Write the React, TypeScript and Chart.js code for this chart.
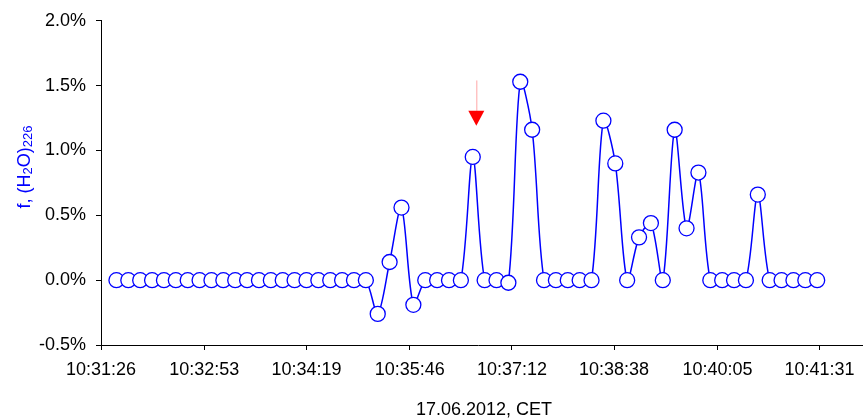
import React, { useEffect, useRef } from "react";
import { Chart, registerables } from "chart.js";

Chart.register(...registerables);

// ---- data ----
const sampleTimes: string[] = [
  "10:31:39", "10:31:49", "10:31:59", "10:32:09", "10:32:19", "10:32:29", "10:32:39", "10:32:49", "10:32:59", "10:33:09",
  "10:33:19", "10:33:29", "10:33:39", "10:33:49", "10:33:59", "10:34:09", "10:34:19", "10:34:29", "10:34:39", "10:34:49",
  "10:34:59", "10:35:09", "10:35:19", "10:35:29", "10:35:39", "10:35:49", "10:35:59", "10:36:09", "10:36:19", "10:36:29",
  "10:36:39", "10:36:49", "10:36:59", "10:37:09", "10:37:19", "10:37:29", "10:37:39", "10:37:49", "10:37:59", "10:38:09",
  "10:38:19", "10:38:29", "10:38:39", "10:38:49", "10:38:59", "10:39:09", "10:39:19", "10:39:29", "10:39:39", "10:39:49",
  "10:39:59", "10:40:09", "10:40:19", "10:40:29", "10:40:39", "10:40:49", "10:40:59", "10:41:09", "10:41:19", "10:41:29",
];

const fractionPct: number[] = [
  0, 0, 0, 0, 0, 0, 0, 0, 0, 0,
  0, 0, 0, 0, 0, 0, 0, 0, 0, 0,
  0, 0, -0.26, 0.14, 0.56, -0.19, 0, 0, 0, 0,
  0.95, 0, 0, -0.02, 1.53, 1.16, 0, 0, 0, 0,
  0, 1.23, 0.9, 0, 0.33, 0.44, 0, 1.16, 0.4, 0.83,
  0, 0, 0, 0, 0.66, 0, 0, 0, 0, 0,
];

const xTickLabels: string[] = ["10:31:26", "10:32:53", "10:34:19", "10:35:46", "10:37:12", "10:38:38", "10:40:05", "10:41:31"];
const xAxisEnd = "10:42:01";
const yMin = -0.5;
const yMax = 2.0;
const yStep = 0.5;

const arrowTime = "10:36:42";
const arrowTopPct = 1.54;
const arrowTipPct = 1.19;

const yTitleParts: [string, boolean][] = [["f, (H", false], ["2", true], ["O)", false], ["226", true]];
const xTitle = "17.06.2012, CET";

// ---- helpers ----
const toSec = (s: string) => {
  const [h, m, sec] = s.split(":").map(Number);
  return h * 3600 + m * 60 + sec;
};
const fmt = (v: number) => {
  const t = Math.round(v);
  const h = Math.floor(t / 3600);
  const m = Math.floor((t % 3600) / 60);
  const s = t % 60;
  const p = (n: number) => String(n).padStart(2, "0");
  return `${h}:${p(m)}:${p(s)}`;
};

const FONT = "'Liberation Sans', Arial, sans-serif";
const BLUE = "#0000FF";

const overlay = {
  id: "overlay",
  afterDatasetsDraw(chart: any) {
    const { ctx, scales } = chart;
    const x = scales.x;
    const y = scales.y;
    ctx.save();
    const ax = x.getPixelForValue(toSec(arrowTime));
    const yTop = y.getPixelForValue(arrowTopPct);
    const yTip = y.getPixelForValue(arrowTipPct);
    const triH = 15;
    const triW = 16;
    ctx.strokeStyle = "rgba(255,0,0,0.35)";
    ctx.lineWidth = 1;
    ctx.beginPath();
    ctx.moveTo(ax + 0.5, yTop);
    ctx.lineTo(ax + 0.5, yTip - triH);
    ctx.stroke();
    ctx.fillStyle = "#FF0000";
    ctx.beginPath();
    ctx.moveTo(ax - triW / 2, yTip - triH);
    ctx.lineTo(ax + triW / 2, yTip - triH);
    ctx.lineTo(ax, yTip);
    ctx.closePath();
    ctx.fill();
    ctx.restore();
  },
  afterDraw(chart: any) {
    const { ctx, chartArea } = chart;

    // extend bottom axis line to the right edge
    ctx.save();
    ctx.strokeStyle = "#000";
    ctx.lineWidth = 1;
    ctx.beginPath();
    ctx.moveTo(chartArea.right, Math.round(chartArea.bottom) + 0.5);
    ctx.lineTo(863, Math.round(chartArea.bottom) + 0.5);
    ctx.stroke();
    ctx.restore();

    // y title with subscripts
    ctx.save();
    const mainFont = `18px ${FONT}`;
    const subFont = `13px ${FONT}`;
    let total = 0;
    for (const [t, sub] of yTitleParts) {
      ctx.font = sub ? subFont : mainFont;
      total += ctx.measureText(t).width;
    }
    ctx.translate(30, 167);
    ctx.rotate(-Math.PI / 2);
    ctx.fillStyle = BLUE;
    ctx.textBaseline = "alphabetic";
    ctx.textAlign = "left";
    let cx = -total / 2;
    for (const [t, sub] of yTitleParts) {
      ctx.font = sub ? subFont : mainFont;
      ctx.fillText(t, cx, sub ? 2 : 0);
      cx += ctx.measureText(t).width;
    }
    ctx.restore();

    // x title
    ctx.save();
    ctx.font = `18px ${FONT}`;
    ctx.fillStyle = "#000";
    ctx.textAlign = "center";
    ctx.textBaseline = "alphabetic";
    ctx.fillText(xTitle, 484, 415);
    ctx.restore();
  },
};

export default function App() {
  const ref = useRef<HTMLCanvasElement | null>(null);

  useEffect(() => {
    document.body.style.margin = "0";
    const canvas = ref.current;
    if (!canvas) return;
    const xMin = toSec(xTickLabels[0]);
    const xMax = toSec(xAxisEnd);
    const chart = new Chart(canvas, {
      type: "line",
      data: {
        datasets: [
          {
            data: sampleTimes.map((t, i) => ({ x: toSec(t), y: fractionPct[i] })),
            borderColor: BLUE,
            borderWidth: 1.5,
            pointRadius: 7.5,
            pointBorderWidth: 1.3,
            pointBackgroundColor: "#FFFFFF",
            pointBorderColor: BLUE,
            tension: 0.3,
            clip: false as any,
          },
        ],
      },
      options: {
        animation: false,
        responsive: true,
        maintainAspectRatio: false,
        layout: { padding: { left: 0, right: 0, top: 20, bottom: 0 } },
        plugins: { legend: { display: false }, tooltip: { enabled: false } },
        scales: {
          x: {
            type: "linear",
            min: xMin,
            max: xMax,
            afterBuildTicks: (scale: any) => {
              scale.ticks = xTickLabels.map((l) => ({ value: toSec(l) }));
            },
            afterFit: (scale: any) => {
              scale.height = 73;
              scale.paddingLeft = 0;
              scale.paddingRight = 0;
            },
            grid: { display: true, drawOnChartArea: false, drawTicks: true, tickLength: 5, color: "#000" },
            border: { display: true, color: "#000", width: 1 },
            ticks: {
              autoSkip: false,
              maxRotation: 0,
              padding: 9,
              color: "#000",
              font: { family: FONT, size: 18 },
              callback: (v: any) => fmt(Number(v)),
            },
          },
          y: {
            min: yMin,
            max: yMax,
            afterFit: (scale: any) => {
              scale.width = 101;
            },
            grid: { display: true, drawOnChartArea: false, drawTicks: true, tickLength: 5, color: "#000" },
            border: { display: true, color: "#000", width: 1 },
            ticks: {
              stepSize: yStep,
              padding: 10,
              color: "#000",
              font: { family: FONT, size: 18 },
              callback: (v: any) => Number(v).toFixed(1) + "%",
            },
          },
        },
      },
      plugins: [overlay],
    });
    return () => chart.destroy();
  }, []);

  return (
    <div style={{ position: "relative", width: 864, height: 418 }}>
      <canvas ref={ref} />
    </div>
  );
}
